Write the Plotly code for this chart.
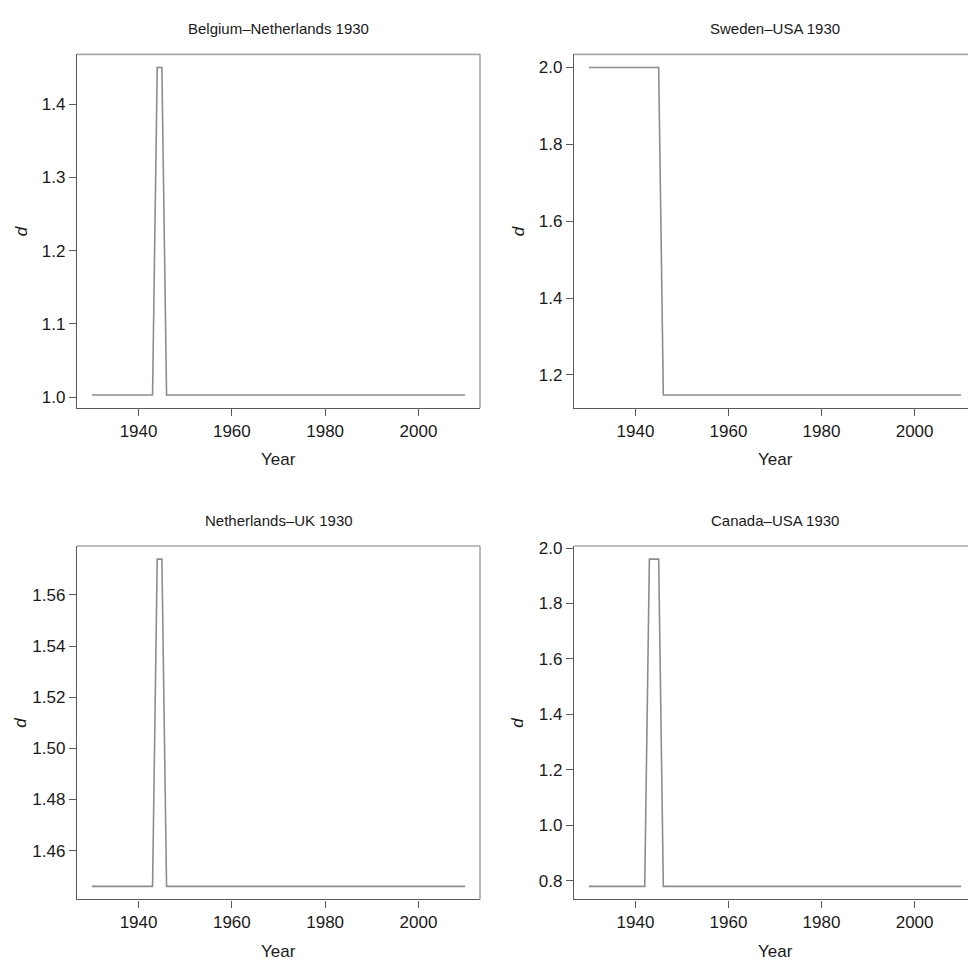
import plotly.graph_objects as go

# ---- data ----
titles = ["Belgium\u2013Netherlands 1930", "Sweden\u2013USA 1930",
          "Netherlands\u2013UK 1930", "Canada\u2013USA 1930"]

years_bn = [1930, 1943, 1944, 1945, 1946, 2010]
d_bn = [1.003, 1.003, 1.45, 1.45, 1.003, 1.003]

years_su = [1930, 1945, 1946, 2010]
d_su = [2.0, 2.0, 1.148, 1.148]

years_nu = [1930, 1943, 1944, 1945, 1946, 2010]
d_nu = [1.446, 1.446, 1.574, 1.574, 1.446, 1.446]

years_cu = [1930, 1942, 1943, 1945, 1946, 2010]
d_cu = [0.78, 0.78, 1.96, 1.96, 0.78, 0.78]

x_ticks = [1940, 1960, 1980, 2000]
y_ticks_bn = [1.0, 1.1, 1.2, 1.3, 1.4]
y_ticks_su = [1.2, 1.4, 1.6, 1.8, 2.0]
y_ticks_nu = [1.46, 1.48, 1.50, 1.52, 1.54, 1.56]
y_ticks_cu = [0.8, 1.0, 1.2, 1.4, 1.6, 1.8, 2.0]

# ---- layout helpers ----
W, H = 968, 965
def px(x):
    return x / W
def py(y):
    return 1 - y / H

FONT = "Liberation Sans, Arial, Helvetica, sans-serif"
TXT = "#1a1a1a"
AXC = "#5a5a5a"
BOXC = "#a8a8a8"
LINEC = "#8c8c8c"

panels = [
    dict(x=years_bn, y=d_bn, yt=y_ticks_bn, fmt=".1f", box=(77, 480, 47.7, 404), xr=(1926.8, 2013.2), right=False),
    dict(x=years_su, y=d_su, yt=y_ticks_su, fmt=".1f", box=(574, 968, 47.7, 404), xr=(1926.8, 2011.48), right=True),
    dict(x=years_nu, y=d_nu, yt=y_ticks_nu, fmt=".2f", box=(77, 480, 543, 899), xr=(1926.8, 2013.2), right=False),
    dict(x=years_cu, y=d_cu, yt=y_ticks_cu, fmt=".1f", box=(574, 968, 543, 899), xr=(1926.8, 2011.48), right=True),
]

fig = go.Figure()
shapes = []
annotations = []

for i, p in enumerate(panels):
    n = i + 1
    xa = "xaxis" if n == 1 else f"xaxis{n}"
    ya = "yaxis" if n == 1 else f"yaxis{n}"
    xref = "x" if n == 1 else f"x{n}"
    yref = "y" if n == 1 else f"y{n}"
    L, R, T, B = p["box"]

    fig.add_trace(go.Scatter(x=p["x"], y=p["y"], mode="lines",
                             line=dict(color=LINEC, width=1.6),
                             xaxis=xref, yaxis=yref, showlegend=False,
                             hoverinfo="skip"))

    ymin, ymax = min(p["y"]), max(p["y"])
    ext = 0.04 * (ymax - ymin)
    yr = [ymin - ext, ymax + ext]

    fig.layout[xa] = dict(domain=[px(L), px(R)], range=list(p["xr"]),
                          anchor=yref, tickmode="array", tickvals=x_ticks,
                          ticks="outside", ticklen=7, tickcolor=AXC, tickwidth=1,
                          showline=True, linecolor=AXC, linewidth=1.4,
                          showgrid=False, zeroline=False,
                          tickfont=dict(family=FONT, size=17, color=TXT))
    fig.layout[ya] = dict(domain=[py(B), py(T)], range=yr,
                          anchor=xref, tickmode="array", tickvals=p["yt"],
                          tickformat=p["fmt"],
                          ticks="outside", ticklen=7, tickcolor=AXC, tickwidth=1,
                          showline=True, linecolor=AXC, linewidth=1.4,
                          showgrid=False, zeroline=False,
                          tickfont=dict(family=FONT, size=17, color=TXT))

    # top border of box
    shapes.append(dict(type="line", xref="paper", yref="paper",
                       x0=px(L), x1=px(R), y0=py(T), y1=py(T),
                       line=dict(color=BOXC, width=1.6)))
    if not p["right"]:
        shapes.append(dict(type="line", xref="paper", yref="paper",
                           x0=px(R), x1=px(R), y0=py(B), y1=py(T),
                           line=dict(color=BOXC, width=1.6)))

    cx = (L + (R if not p["right"] else 976)) / 2
    # title
    annotations.append(dict(text=titles[i], xref="paper", yref="paper",
                            x=px(cx), y=py(T - 26), xanchor="center", yanchor="middle",
                            showarrow=False, font=dict(family=FONT, size=15, color=TXT)))
    # x title
    annotations.append(dict(text="Year", xref="paper", yref="paper",
                            x=px(cx), y=py(B + 52), xanchor="center", yanchor="middle",
                            showarrow=False, font=dict(family=FONT, size=17, color=TXT)))
    # y title
    annotations.append(dict(text="<i>d</i>", xref="paper", yref="paper",
                            x=px(L - 56), y=py((T + B) / 2), xanchor="center", yanchor="middle",
                            textangle=-90, showarrow=False,
                            font=dict(family=FONT, size=17, color=TXT)))

fig.update_layout(width=W, height=H, autosize=False,
                  margin=dict(l=0, r=0, t=0, b=0),
                  paper_bgcolor="white", plot_bgcolor="white",
                  shapes=shapes, annotations=annotations)

fig.write_html("out.html")
